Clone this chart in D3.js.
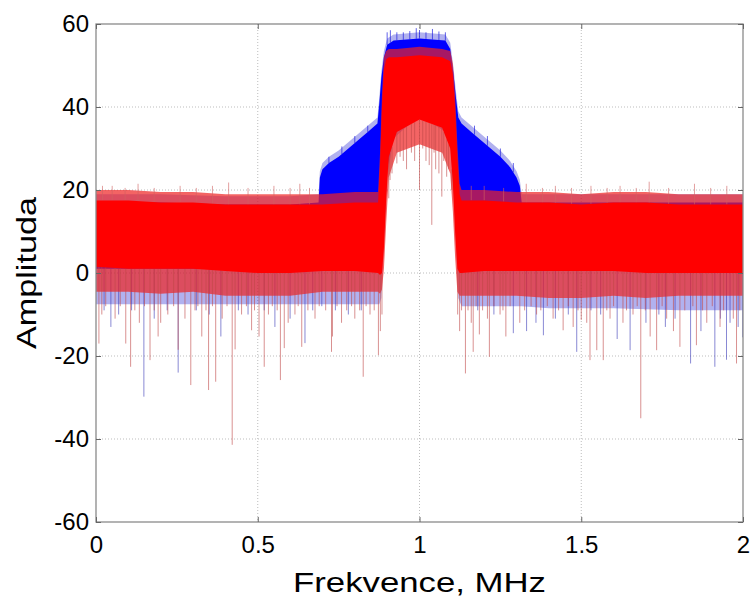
<!DOCTYPE html>
<html>
<head>
<meta charset="utf-8">
<script src="https://cdn.jsdelivr.net/npm/d3@7"></script>
<style>
body { margin: 0; background: #fff; }
svg text { font-family: "Liberation Sans", Arial, Helvetica, sans-serif; fill: #000; }
</style>
</head>
<body>
<svg id="chart" width="750" height="601"></svg>
<script>
// Axis ticks
var xTicks = [0, 0.5, 1, 1.5, 2];
var yTicks = [-60, -40, -20, 0, 20, 40, 60];

// Red series envelope (MHz / amplitude)
var redF        = [0, 0.1, 0.2, 0.3, 0.4, 0.5, 0.6, 0.7, 0.8, 0.872, 0.878, 0.884, 0.890, 0.897, 0.905, 0.93, 1.0, 1.07, 1.095, 1.103, 1.110, 1.117, 1.124, 1.13, 1.2, 1.3, 1.4, 1.5, 1.6, 1.7, 1.8, 1.9, 2.0];
var redCoreHi   = [17.5, 17.5, 17, 17, 16.5, 16.5, 16.5, 16.5, 17, 17, 26, 40, 49, 51.5, 52, 52, 52.5, 52, 51, 48, 40, 28, 19, 17.5, 17.5, 17, 17, 16.5, 17, 17, 16.5, 16.5, 16.5];
var redCoreLo   = [1.5, 1, 1, 1, 0.5, 0, 0, 0.5, 0.5, 0, -0.5, 0, 6, 18, 28, 34, 37, 35, 30, 22, 10, 1, 0, 0, 0.5, 0.5, 0.5, 0.5, 0.5, 0, 0, 0, 0];
var redFringeHi = [20, 20, 19.5, 19.5, 19, 19, 19, 19, 19.5, 19.5, 29, 43, 52, 53.5, 54, 54, 54.5, 54, 53.5, 50.5, 43, 31, 21.5, 20, 20, 19.5, 19.5, 19, 19.5, 19.5, 19, 19, 19];
var redFringeLo = [-4.5, -4.5, -5, -4.5, -5.5, -5.5, -5.5, -4.5, -4.5, -4.5, -5, -4, 1, 12, 23, 29, 31, 29, 24, 15, 4, -4.5, -5.5, -5.5, -5.5, -5.5, -6, -6, -5.5, -6, -5.5, -5.5, -5.5];

// Blue series envelope
var blueF        = [0, 0.2, 0.4, 0.6, 0.688, 0.692, 0.70, 0.72, 0.75, 0.78, 0.81, 0.84, 0.87, 0.876, 0.882, 0.89, 0.90, 0.92, 1.0, 1.08, 1.095, 1.105, 1.113, 1.12, 1.13, 1.16, 1.19, 1.22, 1.25, 1.28, 1.30, 1.31, 1.316, 1.4, 1.6, 1.8, 2.0];
var blueCoreHi   = [17, 17, 16.5, 16.5, 17, 23, 25, 26.5, 28, 30, 32, 34, 36, 41, 47, 52, 55, 56, 56.5, 56, 54, 48, 42, 37.5, 36, 34, 32, 30, 28, 25.5, 23, 21, 17, 17, 17, 17, 17];
var blueFringeHi = [19, 19, 18.5, 18.5, 19, 24.5, 26.5, 28, 29.5, 31.5, 33.5, 35.5, 37.5, 42.5, 48.5, 53.5, 56.5, 57.5, 58, 57.5, 55.5, 49.5, 43.5, 39, 37.5, 35.5, 33.5, 31.5, 29.5, 27, 24.5, 22.5, 19, 19, 19, 19, 19];
var blueCoreLo   = [1, 1, 1, 1, 1, 1, 1, 1, 1, 1, 1, 1, 1, 1, 2, 9, 25, 34, 39, 35, 32, 22, 9, 2, 1, 1, 1, 1, 1, 1, 1, 1, 1, 1, 1, 1, 1];
var blueFringeLo = [-7.5, -7.5, -7.5, -7.5, -7.5, -7.5, -7.5, -7.5, -7.5, -7.5, -7.5, -7.5, -7.5, -7.5, -6, 7, 23, 32.5, 38, 34, 31, 20, 7.5, -6, -8, -8, -8, -8, -8, -8, -8, -8, -8, -8.5, -8.5, -9, -9];

// Individual spikes that stick out of the bands
var redDownF = [0.009, 0.018, 0.03, 0.059, 0.075, 0.092, 0.107, 0.12, 0.134, 0.15, 0.167, 0.18, 0.192, 0.20, 0.222, 0.24, 0.254, 0.275, 0.293, 0.306, 0.315, 0.327, 0.34, 0.348, 0.36, 0.370, 0.39, 0.405, 0.421, 0.43, 0.45, 0.465, 0.481, 0.49, 0.504, 0.520, 0.533, 0.545, 0.56, 0.570, 0.582, 0.594, 0.615, 0.625, 0.636, 0.655, 0.677, 0.69, 0.71, 0.728, 0.731, 0.745, 0.759, 0.775, 0.79, 0.80, 0.815, 0.826, 0.835, 0.847, 0.86, 0.873, 0.879, 0.884,
  0.905, 0.909, 0.915, 0.93, 0.94, 0.95, 0.96, 0.975, 0.985, 1.0, 1.01, 1.02, 1.03, 1.038, 1.045, 1.05, 1.06, 1.069, 1.075, 1.084, 1.09, 1.10,
  1.118, 1.124, 1.13, 1.142, 1.15, 1.16, 1.166, 1.175, 1.185, 1.195, 1.21, 1.216, 1.23, 1.249, 1.258, 1.267, 1.28, 1.31, 1.325, 1.345, 1.362, 1.375, 1.395, 1.413, 1.43, 1.444, 1.46, 1.475, 1.49, 1.50, 1.517, 1.527, 1.548, 1.568, 1.579, 1.589, 1.60, 1.629, 1.64, 1.66, 1.673, 1.684, 1.698, 1.713, 1.733, 1.75, 1.764, 1.785, 1.805, 1.82, 1.845, 1.856, 1.875, 1.888, 1.905, 1.929, 1.94, 1.97, 1.980, 1.99];
var redDownV = [-17, -10, -8, -11, -8, -17, -22.6, -9, -12, -8, -21, -9, -15.3, -12, -10, -8, -18.5, -11, -27, -9, -8, -15.3, -9, -28.2, -8, -26.2, -11, -8, -41.4, -18.4, -10, -8, -13.8, -9, -15.3, -22.6, -10, -8, -9, -25.8, -18.1, -12, -10, -8, -17.8, -9, -11, -8, -9, -19, -15.3, -8, -12, -9, -8, -11, -9, -25, -8, -10, -9, -19.8, -14, -10,
  18, 22.4, 24, 26.4, 28, 27, 25, 29, 27, 20, 30, 27, 26, 11.6, 29, 25, 24, 18.4, 27, 23.2, 25, 20,
  -10, -14, -9, -24.2, -9, -12, -19, -8, -14.8, -9, -11, -20.2, -8, -10, -9, -15.3, -8, -12, -9, -8, -10, -9, -8, -11, -9, -13.8, -8, -13, -9, -11.3, -12, -21, -18.6, -21, -9, -11, -8, -12, -9, -10, -8, -35, -9, -15.3, -18.6, -8, -11, -14, -17.8, -9, -8, -17.4, -9, -12, -8, -13, -9, -11, -21.8, -9];
var redUpF = [0.02, 0.05, 0.09, 0.13, 0.18, 0.26, 0.31, 0.36, 0.41, 0.47, 0.55, 0.6, 0.63, 0.66, 1.16, 1.2, 1.26, 1.33, 1.38, 1.42, 1.47, 1.53, 1.58, 1.62, 1.67, 1.71, 1.77, 1.85, 1.9, 1.95];
var redUpV = [21, 21, 20.5, 21.5, 20.5, 21, 20.5, 21, 21.8, 20.5, 21, 20.5, 21.5, 20.5, 21, 21, 20.5, 21.5, 20.5, 21, 20.5, 21, 20.5, 21, 20.5, 22, 20.5, 21.5, 20.5, 21];
var blueDownF = [0.025, 0.046, 0.07, 0.11, 0.148, 0.18, 0.22, 0.254, 0.31, 0.35, 0.386, 0.44, 0.47, 0.52, 0.553, 0.6, 0.646, 0.67, 0.698, 0.74, 0.78, 0.82, 1.18, 1.23, 1.29, 1.331, 1.36, 1.383, 1.42, 1.46, 1.486, 1.53, 1.56, 1.611, 1.651, 1.7, 1.74, 1.76, 1.79, 1.838, 1.87, 1.913, 1.93, 1.949, 1.96, 1.985, 1.999];
var blueDownV = [-9, -13, -10, -9, -29.8, -11, -9, -24, -9, -10, -15.3, -9, -10, -9, -13, -11, -16.9, -9, -8, -9, -10, -9, -9, -10, -14.5, -14, -12, -15, -11, -10, -19, -9, -10, -15.9, -18.6, -12, -10, -13, -11, -21.8, -14, -22.6, -11, -20.9, -12, -13, -15.5];
var blueUpF = [0.90, 0.91, 0.93, 0.95, 0.97, 0.99, 1.0, 1.02, 1.04, 1.06, 1.08, 0.72, 0.76, 0.80, 0.84, 1.17, 1.21, 1.25, 1.29];
var blueUpV = [58, 58.5, 58, 58, 58.3, 59, 58.5, 58, 58.8, 58.2, 58, 28, 30.5, 33, 35.5, 35.5, 33, 30, 26.5];

var svg = d3.select("#chart");
var mLeft = 96, mRight = 743, mTop = 24, mBottom = 522;

var x = d3.scaleLinear().domain([0, 2]).range([mLeft, mRight]);
var y = d3.scaleLinear().domain([-60, 60]).range([mBottom, mTop]);

// linear lookup inside an envelope (only used to anchor spikes)
function lookup(fs, vs, f) {
  var i = d3.bisectRight(fs, f);
  if (i <= 0) return vs[0];
  if (i >= fs.length) return vs[vs.length - 1];
  var t = (f - fs[i - 1]) / (fs[i] - fs[i - 1]);
  return vs[i - 1] + t * (vs[i] - vs[i - 1]);
}

svg.append("clipPath").attr("id", "plotclip")
  .append("rect").attr("x", mLeft).attr("y", mTop).attr("width", mRight - mLeft).attr("height", mBottom - mTop);

// Grid
var grid = svg.append("g").attr("stroke", "#bdbdbd").attr("stroke-width", 1).attr("stroke-dasharray", "1,2");
grid.selectAll("line.gx").data(xTicks.slice(1, -1)).enter().append("line")
  .attr("x1", function (d) { return x(d); }).attr("x2", function (d) { return x(d); })
  .attr("y1", mTop).attr("y2", mBottom);
grid.selectAll("line.gy").data(yTicks.slice(1, -1)).enter().append("line")
  .attr("x1", mLeft).attr("x2", mRight)
  .attr("y1", function (d) { return y(d); }).attr("y2", function (d) { return y(d); });

var plot = svg.append("g").attr("clip-path", "url(#plotclip)");

function band(fs, lo, hi) {
  return d3.area()
    .x(function (i) { return x(fs[i]); })
    .y0(function (i) { return y(lo[i]); })
    .y1(function (i) { return y(hi[i]); })
    (d3.range(fs.length));
}

function spikes(g, fs, vs, anchorF, anchorV, color, op) {
  g.selectAll(null).data(d3.range(fs.length)).enter().append("line")
    .attr("x1", function (i) { return x(fs[i]); })
    .attr("x2", function (i) { return x(fs[i]); })
    .attr("y1", function (i) { return y(lookup(anchorF, anchorV, fs[i])); })
    .attr("y2", function (i) { return y(vs[i]); })
    .attr("stroke", color).attr("stroke-opacity", op).attr("stroke-width", 1);
}

// Blue (drawn first, red sits on top)
plot.append("path").attr("d", band(blueF, blueFringeLo, blueFringeHi))
  .attr("fill", "#1f1fd0").attr("fill-opacity", 0.35);
spikes(plot, blueDownF, blueDownV, blueF, blueCoreLo, "#3a3ab8", 0.6);
spikes(plot, blueUpF, blueUpV, blueF, blueCoreHi, "#2020e0", 0.7);
plot.append("path").attr("d", band(blueF, blueCoreLo, blueCoreHi)).attr("fill", "#0000ff");

// Red
plot.append("path").attr("d", band(redF, redFringeLo, redFringeHi))
  .attr("fill", "#ee2222").attr("fill-opacity", 0.7);
spikes(plot, redDownF, redDownV, redF, redCoreLo, "#c04848", 0.6);
spikes(plot, redUpF, redUpV, redF, redCoreHi, "#d06060", 0.6);
plot.append("path").attr("d", band(redF, redCoreLo, redCoreHi)).attr("fill", "#ff0000");

// Box
svg.append("rect").attr("x", mLeft).attr("y", mTop).attr("width", mRight - mLeft).attr("height", mBottom - mTop)
  .attr("fill", "none").attr("stroke", "#8a8a8a").attr("stroke-width", 1.3);

// Axes, MATLAB style inward ticks
function styleAxis(g, labels) {
  g.select(".domain").remove();
  g.selectAll(".tick line").attr("stroke", "#666");
  g.selectAll(".tick text").style("font-size", labels ? "24px" : "0px").attr("fill", "#000");
}
function plain(d) { return String(d); }
svg.append("g").attr("transform", "translate(0," + mBottom + ")")
  .call(d3.axisBottom(x).tickValues(xTicks).tickFormat(plain).tickSize(-5).tickPadding(14))
  .call(styleAxis, true);
svg.append("g").attr("transform", "translate(" + mLeft + ",0)")
  .call(d3.axisLeft(y).tickValues(yTicks).tickFormat(plain).tickSize(-5).tickPadding(7))
  .call(styleAxis, true);
svg.append("g").attr("transform", "translate(0," + mTop + ")")
  .call(d3.axisTop(x).tickValues(xTicks).tickFormat("").tickSize(-5))
  .call(styleAxis, false);
svg.append("g").attr("transform", "translate(" + mRight + ",0)")
  .call(d3.axisRight(y).tickValues(yTicks).tickFormat("").tickSize(-5))
  .call(styleAxis, false);

// Titles
svg.append("text")
  .attr("x", (mLeft + mRight) / 2).attr("y", 592)
  .attr("text-anchor", "middle").style("font-size", "28px")
  .attr("textLength", 253).attr("lengthAdjust", "spacingAndGlyphs")
  .text("Frekvence, MHz");
svg.append("text")
  .attr("transform", "translate(36," + (mTop + mBottom) / 2 + ") rotate(-90)")
  .attr("text-anchor", "middle").style("font-size", "28px")
  .attr("textLength", 152).attr("lengthAdjust", "spacingAndGlyphs")
  .text("Amplituda");
</script>
</body>
</html>
